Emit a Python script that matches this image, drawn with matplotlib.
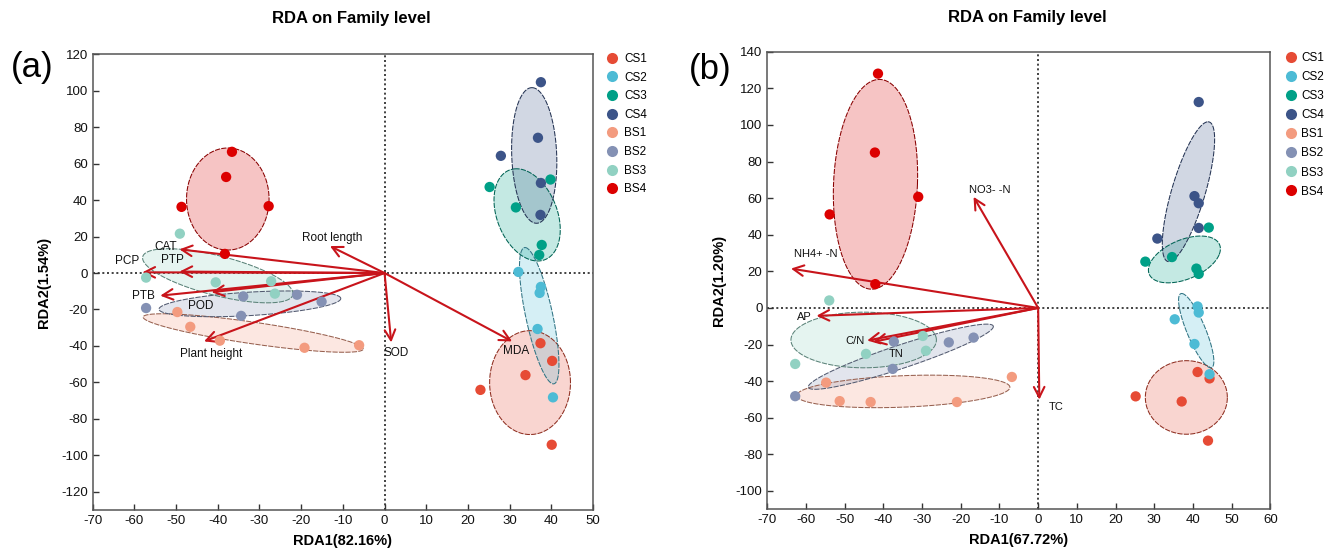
import numpy as np
import matplotlib
matplotlib.use("Agg")
import matplotlib.pyplot as plt
from matplotlib.lines import Line2D
from matplotlib.colors import to_rgb

plt.rcParams['font.family'] = ['Liberation Sans', 'DejaVu Sans']
plt.rcParams['axes.unicode_minus'] = False

# ---------------- data ----------------
groups = ['CS1', 'CS2', 'CS3', 'CS4', 'BS1', 'BS2', 'BS3', 'BS4']
colors = ['#E64B35', '#4DBBD5', '#00A087', '#3C5488',
          '#F39B7F', '#8491B4', '#91D1C2', '#DC0000']

# Panel (a) sample scores (RDA1, RDA2), 5 samples per group
a_x = [[37.4, 40.2, 33.8, 23.0, 40.1],
       [32.1, 37.5, 37.2, 36.7, 40.4],
       [25.2, 39.8, 31.5, 37.7, 37.1],
       [37.5, 36.8, 27.9, 37.5, 37.4],
       [-49.7, -46.6, -39.5, -19.2, -6.1],
       [-57.2, -34.4, -33.9, -21.0, -15.1],
       [-49.1, -57.2, -40.5, -27.2, -26.3],
       [-36.6, -38.0, -48.7, -27.8, -38.3]]
a_y = [[-38.5, -48.2, -56.0, -64.1, -94.2],
       [0.6, -7.6, -10.9, -30.7, -68.2],
       [47.2, 51.3, 36.0, 15.4, 9.9],
       [104.7, 74.2, 64.3, 49.4, 31.9],
       [-21.4, -29.5, -37.1, -41.0, -39.6],
       [-19.2, -23.5, -12.8, -11.9, -15.7],
       [21.6, -2.5, -5.1, -4.5, -11.3],
       [66.5, 52.7, 36.3, 36.7, 10.5]]
# Panel (a) group ellipses: centre and two conjugate semi-axis vectors
a_ell_cx = [34.9, 37.1, 34.2, 35.9, -31.5, -32.3, -40.0, -37.6]
a_ell_cy = [-60.1, -23.4, 31.9, 64.5, -32.9, -16.9, -1.5, 40.6]
a_ell_ux = [9.7, -3.4, -3.05, -0.55, 26.4, 21.8, 18.0, 0.0]
a_ell_uy = [0.0, 37.4, 25.25, 37.2, -8.7, 3.0, -10.5, 28.0]
a_ell_vx = [0.0, 3.3, 7.34, 5.4, 0.0, -0.3, 1.2, 9.9]
a_ell_vy = [28.5, 0.0, 1.7, 0.0, 6.0, 6.4, 10.5, 0.0]
# Panel (a) environmental factor arrows
a_env = ['CAT', 'PCP', 'PTP', 'PTB', 'POD', 'Plant height', 'Root length', 'SOD', 'MDA']
a_env_x = [-49.2, -58.1, -49.2, -53.8, -41.5, -43.3, -13.1, 1.6, 30.6]
a_env_y = [13.0, 0.4, 0.8, -12.4, -10.5, -37.5, 14.8, -38.1, -37.5]

# Panel (b) sample scores
b_x = [[25.2, 37.1, 41.2, 44.3, 43.9],
       [41.2, 41.5, 35.3, 40.4, 44.3],
       [27.7, 34.6, 40.9, 41.5, 44.1],
       [41.5, 40.4, 41.5, 41.5, 30.8],
       [-54.8, -51.3, -43.3, -21.0, -6.8],
       [-62.8, -37.6, -37.3, -23.1, -16.7],
       [-54.0, -62.8, -44.5, -29.8, -29.0],
       [-41.4, -42.2, -31.0, -53.9, -42.1]]
b_y = [[-48.3, -51.1, -35.0, -38.5, -72.5],
       [0.8, -2.5, -6.2, -19.7, -36.2],
       [25.3, 27.8, 21.5, 18.6, 43.9],
       [112.5, 61.1, 57.2, 43.7, 37.9],
       [-40.8, -50.9, -51.4, -51.4, -37.7],
       [-48.2, -33.3, -18.4, -18.8, -16.2],
       [4.1, -30.6, -25.1, -15.3, -23.4],
       [128.0, 84.9, 60.7, 51.1, 13.0]]
b_ell_cx = [38.3, 40.85, 37.8, 38.85, -34.85, -35.5, -45.1, -42.05]
b_ell_cy = [-48.9, -12.4, 26.5, 63.5, -45.6, -26.65, -17.5, 67.55]
b_ell_ux = [10.6, -3.75, 9.0, 5.05, 27.55, 23.9, 18.8, 10.85]
b_ell_uy = [0.0, 20.3, 2.7, 38.2, 2.25, 16.75, 0.0, 0.0]
b_ell_vx = [0.0, 2.6, 2.36, 4.5, 0.0, 0.96, 0.0, 1.0]
b_ell_vy = [20.1, 0.0, 12.5, 0.0, 8.6, -6.05, 15.2, 57.3]
b_env = ['NH4+ -N', 'NO3- -N', 'AP', 'C/N', 'TN', 'TC']
b_env_x = [-63.9, -16.7, -57.3, -44.2, -42.6, 0.3]
b_env_y = [21.5, 60.7, -4.3, -17.8, -18.5, -50.1]

# ---------------- styling helpers ----------------
ARROW_COL = '#C8141B'


def darker(c, f=0.62):
    r, g, b = to_rgb(c)
    return (r * f, g * f, b * f)


def draw_panel(ax, px, py, ecx, ecy, eux, euy, evx, evy,
               env, env_x, env_y, lab_off, lab_fs,
               xlim, ylim, xticks, yticks, xlabel, ylabel):
    ax.set_xlim(*xlim)
    ax.set_ylim(*ylim)
    ax.axhline(0, color='#222222', ls=(0, (1.2, 1.6)), lw=1.2, zorder=1)
    ax.axvline(0, color='#222222', ls=(0, (1.2, 1.6)), lw=1.2, zorder=1)
    t = np.linspace(0, 2 * np.pi, 240)
    for i, col in enumerate(colors):
        xs = ecx[i] + eux[i] * np.cos(t) + evx[i] * np.sin(t)
        ys = ecy[i] + euy[i] * np.cos(t) + evy[i] * np.sin(t)
        ax.fill(xs, ys, color=col, alpha=0.23, lw=0, zorder=2)
        ax.plot(xs, ys, color=darker(col), lw=0.75, ls=(0, (5, 1.2)), zorder=2.1)
    for name, ex, ey in zip(env, env_x, env_y):
        ax.annotate('', xy=(ex, ey), xytext=(0, 0),
                    arrowprops=dict(arrowstyle='->,head_length=0.75,head_width=0.38',
                                    color=ARROW_COL, lw=1.5,
                                    shrinkA=0, shrinkB=0),
                    zorder=3)
        dx, dy, ha = lab_off[name]
        ax.annotate(name, xy=(ex, ey), xytext=(dx, dy), textcoords='offset points',
                    ha=ha, va='center', fontsize=lab_fs, color='#111111', zorder=5)
    for i, col in enumerate(colors):
        ax.scatter(px[i], py[i], s=55, color=col, edgecolors='none', zorder=4)
    ax.set_xticks(xticks)
    ax.set_yticks(yticks)
    ax.tick_params(direction='in', length=4, width=1, pad=3.5,
                   labelsize=9.5, colors='#333333', labelcolor='#111111')
    for s in ax.spines.values():
        s.set_color('#555555')
        s.set_linewidth(1.1)
    ax.set_xlabel(xlabel, fontsize=10.5, fontweight='bold', labelpad=5)
    ax.set_ylabel(ylabel, fontsize=10.5, fontweight='bold', labelpad=7)


fig = plt.figure(figsize=(13.38, 5.54), dpi=100)
axA = fig.add_axes([0.0693, 0.0794, 0.3739, 0.8226])
axB = fig.add_axes([0.5735, 0.0807, 0.3759, 0.8260])

a_off = {'CAT': (-2, 2, 'right'), 'PCP': (-2, 8, 'right'), 'PTP': (-13, 8, 'left'),
         'PTB': (-4, 0, 'right'), 'POD': (-17, -10, 'left'),
         'Plant height': (-17, -9, 'left'), 'Root length': (-20, 5.5, 'left'),
         'SOD': (-5.5, -7.5, 'left'), 'MDA': (-6.5, -7, 'left')}
b_off = {'NH4+ -N': (2, 10.5, 'left'), 'NO3- -N': (-3.6, 4.6, 'left'),
         'AP': (-3.7, -0.7, 'right'), 'C/N': (-1.5, 0, 'right'), 'TN': (11, -8.6, 'left'),
         'TC': (6.7, -5.4, 'left')}

draw_panel(axA, a_x, a_y, a_ell_cx, a_ell_cy, a_ell_ux, a_ell_uy, a_ell_vx, a_ell_vy,
           a_env, a_env_x, a_env_y, a_off, 8.5,
           (-70, 50), (-130, 120), np.arange(-70, 51, 10), np.arange(-120, 121, 20),
           'RDA1(82.16%)', 'RDA2(1.54%)')
draw_panel(axB, b_x, b_y, b_ell_cx, b_ell_cy, b_ell_ux, b_ell_uy, b_ell_vx, b_ell_vy,
           b_env, b_env_x, b_env_y, b_off, 8,
           (-70, 60), (-110, 140), np.arange(-70, 61, 10), np.arange(-100, 141, 20),
           'RDA1(67.72%)', 'RDA2(1.20%)')

fig.text(0.2627, 0.9675, 'RDA on Family level', ha='center', va='center',
         fontsize=12, fontweight='bold')
fig.text(0.7676, 0.969, 'RDA on Family level', ha='center', va='center',
         fontsize=12, fontweight='bold')
fig.text(0.024, 0.878, '(a)', ha='center', va='center', fontsize=25)
fig.text(0.531, 0.875, '(b)', ha='center', va='center', fontsize=25)

handles = [Line2D([0], [0], marker='o', ls='none', markersize=8,
                  markerfacecolor=c, markeredgecolor='none') for c in colors]
for ax, xl, yt, tp, ls in [(axA, 606.5 / 1338, 1 - 53 / 554, 0.5, 0.56),
                           (axB, 1285 / 1338, 1 - 52 / 554, 0.35, 0.6)]:
    ax.legend(handles, groups, loc='upper left', bbox_to_anchor=(xl, yt),
              bbox_transform=fig.transFigure, frameon=False, fontsize=8.5,
              handlelength=1.0, handletextpad=tp, labelspacing=ls,
              borderpad=0, borderaxespad=0)

fig.savefig('out.png', dpi=100)
